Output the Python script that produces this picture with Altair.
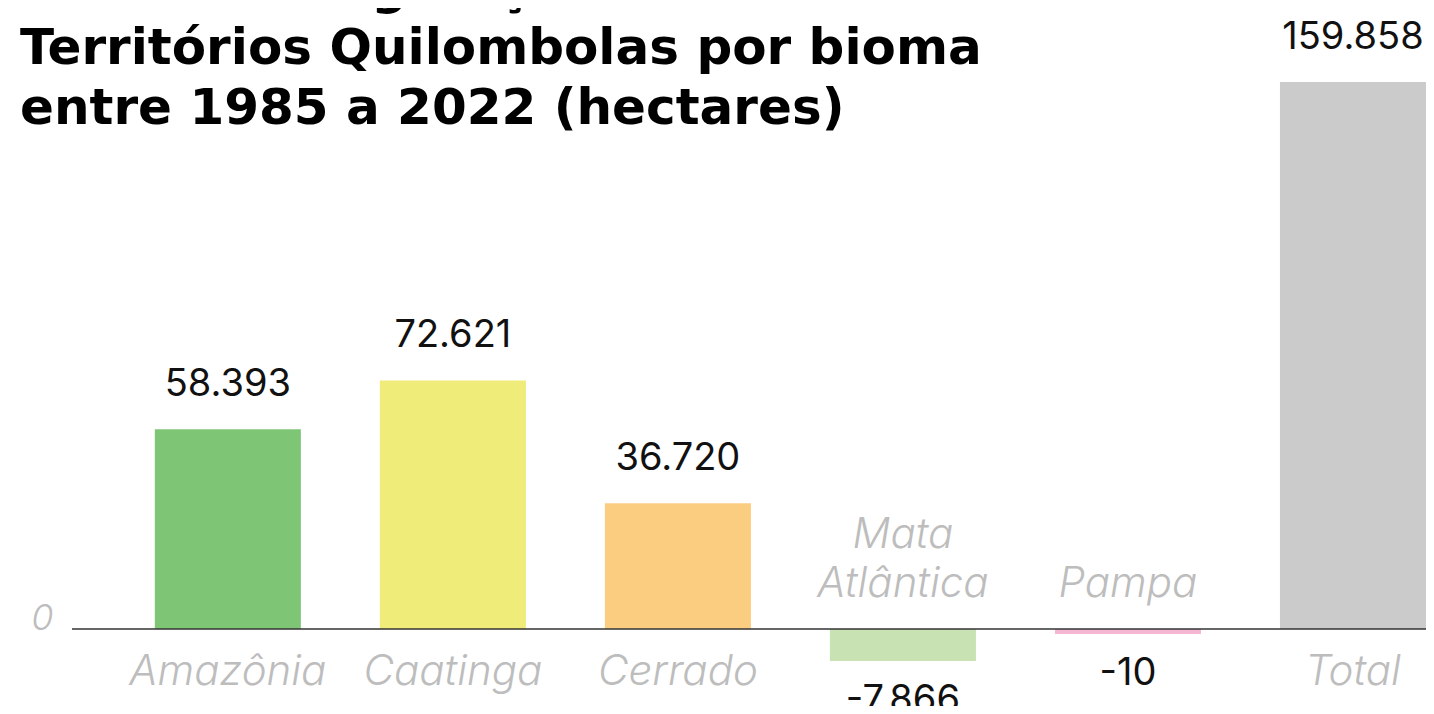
import altair as alt
import pandas as pd

# ---- data ----
categories = ["Amazônia", "Caatinga", "Cerrado", "Mata Atlântica", "Pampa", "Total"]
category_lines = [["Amazônia"], ["Caatinga"], ["Cerrado"], ["Mata", "Atlântica"], ["Pampa"], ["Total"]]
values = [58393, 72621, 36720, -7866, -10, 159858]
colors = ["#7ec675", "#f0ec7a", "#fbcd80", "#c8e2b4", "#f4b6d1", "#cbcbcb"]
title_lines = [
    "Ganho de vegetação nativa em",
    "Territórios Quilombolas por bioma",
    "entre 1985 a 2022 (hectares)",
]
y_ticks = [0]

value_labels = [f"{v:,}".replace(",", ".") for v in values]

df = pd.DataFrame({
    "bioma": categories,
    "valor": values,
    "texto": value_labels,
})

# one row per label line; "nivel" counts lines away from the zero line
rows = []
for cat, lines, v in zip(categories, category_lines, values):
    ordered = lines if v >= 0 else list(reversed(lines))
    for j, line in enumerate(ordered):
        rows.append({"bioma": cat, "linha": line, "nivel": j, "valor": v})
labels_df = pd.DataFrame(rows)

xs = alt.Scale(domain=categories, paddingInner=0.351, paddingOuter=0.184, align=1)
ys = alt.Scale(domain=[-22501, 181473], nice=False, zero=False)
yaxis = alt.Axis(
    values=y_ticks, title=None, domain=False, ticks=False, tickSize=0, grid=False,
    labelPadding=19, labelFont="Inter", labelFontSize=36, labelFontStyle="italic",
    labelFontWeight=300, labelColor="#bdbdbd", labelBaseline="alphabetic",
)
X = alt.X("bioma:N", scale=xs, axis=None)
Y = alt.Y("valor:Q", scale=ys, axis=yaxis)
Y0 = alt.YDatum(0, scale=ys, axis=yaxis)
C = alt.Color("bioma:N", scale=alt.Scale(domain=categories, range=colors), legend=None)

base = alt.Chart(df)
pos = base.transform_filter("datum.valor >= 0")
neg = base.transform_filter("datum.valor < 0")

bars_pos = pos.mark_bar().encode(x=X, y=Y, y2=alt.datum(0), color=C)
bars_neg = neg.mark_bar(yOffset=5).encode(x=X, y=Y, y2=alt.datum(0), color=C)

zero_rule = alt.Chart(pd.DataFrame({"zero": [0]})).mark_rule(
    color="#333333", strokeWidth=1.5
).encode(y=alt.Y("zero:Q", scale=ys, axis=yaxis))

val_style = dict(font="Inter", fontSize=38, fontWeight=400, color="#111111",
                 baseline="alphabetic")
vals_pos = pos.mark_text(dy=-33, **val_style).encode(x=X, y=Y, text="texto:N")
vals_neg = neg.mark_text(dy=56, **val_style).encode(x=X, y=Y, text="texto:N")

cat_style = dict(font="Inter", fontSize=42, fontWeight=300, fontStyle="italic",
                 color="#bdbdbd", baseline="alphabetic")
lab = alt.Chart(labels_df)
cats_pos = lab.transform_filter("datum.valor >= 0 && datum.nivel == 0").mark_text(
    dy=56, **cat_style).encode(x=X, y=Y0, text="linha:N")
cats_neg0 = lab.transform_filter("datum.valor < 0 && datum.nivel == 0").mark_text(
    dy=-32, **cat_style).encode(x=X, y=Y0, text="linha:N")
cats_neg1 = lab.transform_filter("datum.valor < 0 && datum.nivel == 1").mark_text(
    dy=-81, **cat_style).encode(x=X, y=Y0, text="linha:N")

title = alt.Chart(pd.DataFrame({"t": ["\n".join(title_lines)]})).mark_text(
    font="DejaVu Sans", fontSize=50, fontWeight="bold", color="#000000",
    align="left", baseline="alphabetic", lineBreak="\n", lineHeight=60,
).encode(text="t:N", x=alt.value(-52), y=alt.value(-4))

chart = alt.layer(
    bars_pos, bars_neg, zero_rule, vals_pos, vals_neg,
    cats_pos, cats_neg0, cats_neg1, title
).properties(
    width=1354, height=698,
    autosize=alt.AutoSizeParams(type="none"),
    padding={"left": 64, "top": 0, "right": 0, "bottom": 0},
).configure_view(stroke=None)

chart.save("out.html", embed_options={"renderer": "svg", "actions": False})
